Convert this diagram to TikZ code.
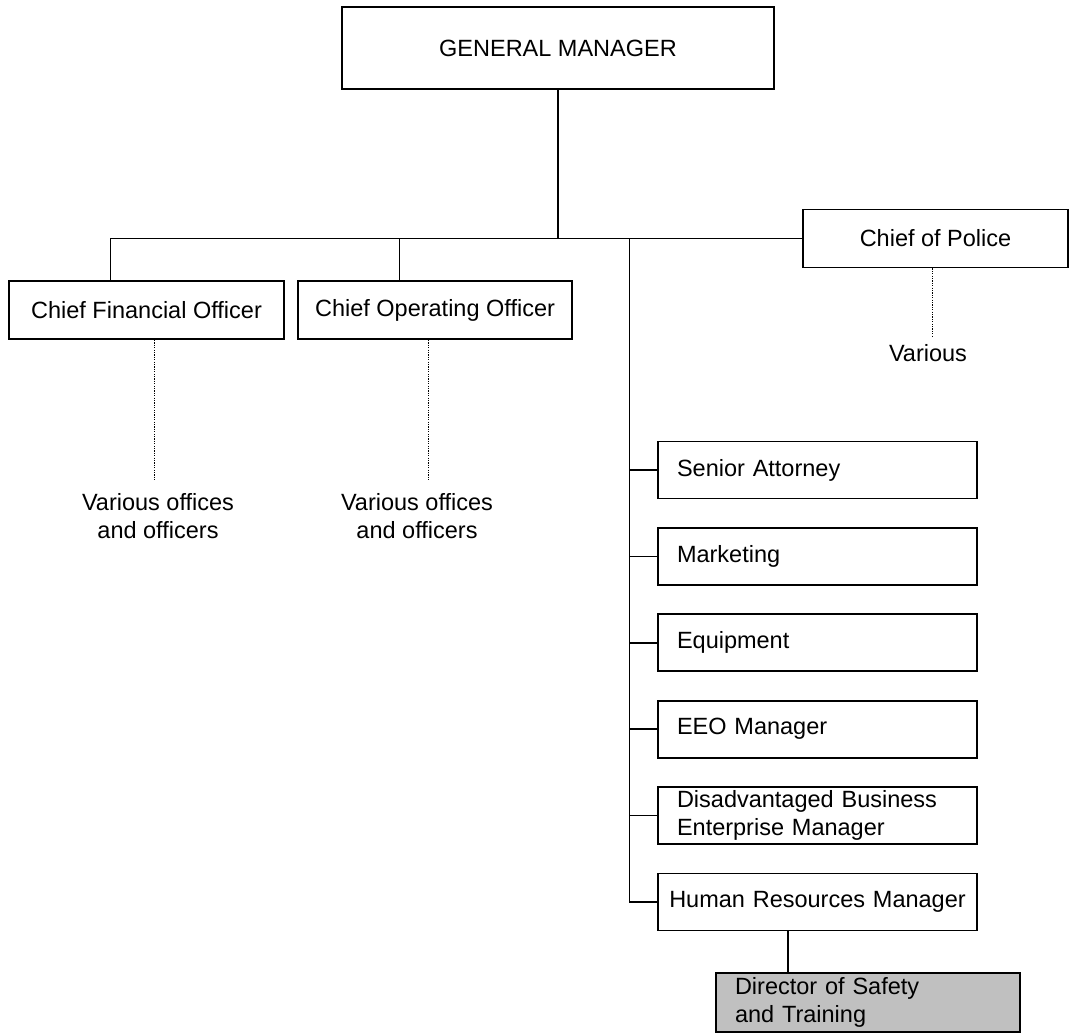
\documentclass[tikz,border=0pt]{standalone}
\usepackage{fontspec}
\setmainfont{Liberation Sans}
\definecolor{safetygray}{RGB}{192,192,192}
\begin{document}
\begin{tikzpicture}[x=0.5pt,y=-0.5pt,font=\fontsize{11.75pt}{14pt}\selectfont]

	\tikzstyle{chief}=[draw=black,line width=0.9pt,inner sep=0pt,
		minimum height=29pt,align=center]
	\tikzstyle{staff}=[draw=black,line width=0.9pt,
		minimum width=159.5pt,minimum height=28.5pt,
		text width=140.5pt,inner xsep=9.5pt,inner ysep=0pt,
		node distance=43.2pt,align=left]
	\tikzstyle{link}=[line width=0.75pt]
	\tikzstyle{various}=[line width=0.4pt,dash pattern=on 0.6pt off 0.6pt]

	\useasboundingbox (0,0) rectangle (1070,1034);

	\node[chief,minimum width=216pt,minimum height=41pt] (gm) at (558,48) {GENERAL MANAGER};
	\node[chief,minimum width=137.5pt] (cfo) at (146.5,310) {Chief Financial Officer};
	\node[chief,minimum width=137pt] (coo) at (435,310) {Chief Operating Officer};
	\node[chief,minimum width=132.5pt] (police) at (935.5,238.5) {Chief of Police};

	\node[staff] (sa) at (817.5,470) {Senior Attorney};
	\node[staff,below of=sa] (mkt) {Marketing};
	\node[staff,below of=mkt] (equip) {Equipment};
	\node[staff,below of=equip] (eeo) {EEO Manager};
	\node[staff,below of=eeo] (dbe) {Disadvantaged Business\\Enterprise Manager};
	\node[staff,below of=dbe,text width=159.5pt,inner xsep=0pt,align=center] (hr) {Human Resources Manager};
	\node[staff,fill=safetygray,minimum width=152pt,text width=133pt,minimum height=29.5pt] (safety) at (868,1002.5) {Director of Safety\\and Training};

	\node[align=center] (cfovar) at (158,516) {Various offices\\and officers};
	\node[align=center] (coovar) at (417,516) {Various offices\\and officers};
	\node (policevar) at (928,353) {Various};

	\coordinate (cfobar) at (110.7,238.5);
	\coordinate (coobar) at (399.3,238.5);
	\coordinate (staffbar) at (629.5,238.5);
	\coordinate (hrlink) at (788,0);
	\coordinate (cfodots) at (154,480);
	\coordinate (coodots) at (428,480);
	\coordinate (policedots) at (932.7,336);

	\draw[link] (gm.south) -- (gm.south |- cfobar);
	\draw[link] (cfobar |- cfo.north) -- (cfobar) -- (police.west);
	\draw[link] (coobar) -- (coobar |- coo.north);
	\draw[link] (staffbar) -- (staffbar |- hr.west) -- (hr.west);
	\foreach \s in {sa,mkt,equip,eeo,dbe}
		\draw[link] (staffbar |- \s.west) -- (\s.west);
	\draw[link] (hr.south -| hrlink) -- (safety.north -| hrlink);

	\draw[various] (cfodots |- cfo.south) -- (cfodots);
	\draw[various] (coodots |- coo.south) -- (coodots);
	\draw[various] (policedots |- police.south) -- (policedots);

\end{tikzpicture}
\end{document}
